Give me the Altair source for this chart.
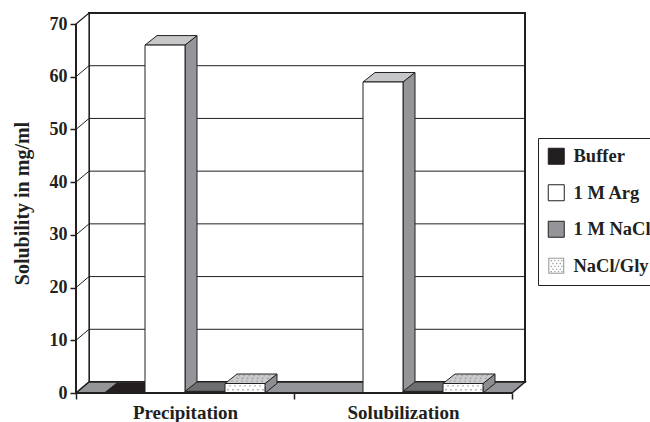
import altair as alt
import numpy as np
import pandas as pd

# ---- data ----
categories = ["Precipitation", "Solubilization"]
series = ["Buffer", "1 M Arg", "1 M NaCl", "NaCl/Gly"]
buffer_vals = [0.1, 0.0]
arg_vals = [66.0, 59.0]
nacl_vals = [0.3, 0.3]
nacl_gly_vals = [1.8, 1.8]
y_ticks = [0, 10, 20, 30, 40, 50, 60, 70]

values = {
    "Buffer": buffer_vals,
    "1 M Arg": arg_vals,
    "1 M NaCl": nacl_vals,
    "NaCl/Gly": nacl_gly_vals,
}

# ---- styling: (front, top, side) face colours per series ----
face_colors = {
    "Buffer": ("#231f20", "#231f20", "#231f20"),
    "1 M Arg": ("#ffffff", "#c6c7c9", "#939598"),
    "1 M NaCl": ("#939598", "#6d6e71", "#6d6e71"),
    "NaCl/Gly": ("#ffffff", "#cacbcd", "#8d8e91"),
}
INK = "#231f20"
FLOOR = "#939598"
STIPPLE = "#9a9a9a"
FONT = "Liberation Serif"

# legend swatches: plain squares, and a stippled square with a light frame
SQUARE = "M-1,-1H1V1H-1Z"
_dots = "".join(
    f"M{x:.2f},{y:.2f}h0.16v0.16h-0.16Z"
    for r, y in enumerate([-0.72, -0.36, 0.0, 0.36, 0.66])
    for x in ([-0.7, -0.25, 0.2, 0.62] if r % 2 == 0 else [-0.48, -0.03, 0.42])
)
STIPPLED = "M-1,-1H1V1H-1Z M-0.86,-0.86V0.86H0.86V-0.86Z " + _dots
legend_shapes = [SQUARE, SQUARE, SQUARE, STIPPLED]
legend_fills = [INK, "#ffffff", "#939598", STIPPLE]
legend_strokes = [INK, INK, INK, "transparent"]

# ---- 3-D box geometry: x in pixels from the front-left corner, y in mg/ml ----
PX_PER_UNIT = 369 / 70
CAT_W = 218
BAR_W = 40
BAR_PAD = 29
WALL_DX = 13
WALL_DY = 11 / PX_PER_UNIT
BAR_DX = 12
BAR_DY = 9.5 / PX_PER_UNIT
FRONT_W = len(categories) * CAT_W
PLOT_W = FRONT_W + WALL_DX
PLOT_H = 380
Y_MAX = PLOT_H / PX_PER_UNIT
TOP = y_ticks[-1]

x_scale = alt.Scale(domain=[0, PLOT_W], nice=False, zero=False)
y_scale = alt.Scale(domain=[0, Y_MAX], nice=False, zero=False)

label_expr = " : ".join(
    [f"datum.value == {i * CAT_W} ? '{c}'" for i, c in enumerate(categories)] + ["''"]
)
x_axis = alt.Axis(
    values=[i * CAT_W for i in range(len(categories) + 1)],
    labelExpr=label_expr,
    labelOffset=CAT_W / 2,
    labelFlush=False,
    labelOverlap=False,
    labelBound=False,
    domain=False,
    grid=False,
    ticks=True,
    tickSize=6,
    tickWidth=1.5,
    tickColor=INK,
    labelFont=FONT,
    labelFontWeight="bold",
    labelFontSize=19,
    labelColor=INK,
    labelBaseline="alphabetic",
    labelPadding=19,
    title=None,
)
y_axis = alt.Axis(
    values=y_ticks,
    domain=False,
    grid=False,
    tickSize=6,
    tickWidth=1.5,
    tickColor=INK,
    labelFont=FONT,
    labelFontWeight="bold",
    labelFontSize=18,
    labelColor=INK,
    labelPadding=3,
    title="Solubility in mg/ml",
    titleFont=FONT,
    titleFontWeight="bold",
    titleFontSize=20,
    titleColor=INK,
    titleX=-54,
    titleY=PLOT_H / 2,
    titleAlign="center",
    titleBaseline="middle",
    titleAngle=270,
)


def X(field):
    return alt.X(field, type="quantitative", scale=x_scale, axis=x_axis)


def Y(field):
    return alt.Y(field, type="quantitative", scale=y_scale, axis=y_axis)


# ---- walls and floor ----
back_wall = pd.DataFrame({"x": [WALL_DX], "x2": [PLOT_W], "y": [WALL_DY], "y2": [Y_MAX]})
left_wall = pd.DataFrame({"x": [0, WALL_DX], "y": [TOP, Y_MAX], "y2": [0, WALL_DY]})
floor = pd.DataFrame({
    "x": [0, WALL_DX, FRONT_W, PLOT_W],
    "y": [0, WALL_DY, WALL_DY, WALL_DY],
    "y2": [0, 0, 0, WALL_DY],
})
grid_levels = y_ticks[1:-1]
back_grid = pd.DataFrame({
    "x": WALL_DX, "x2": PLOT_W,
    "y": [v + WALL_DY for v in grid_levels],
    "y2": [v + WALL_DY for v in grid_levels],
})
side_grid = pd.DataFrame({
    "x": 0, "x2": WALL_DX,
    "y": grid_levels,
    "y2": [v + WALL_DY for v in grid_levels],
})

# ---- bars: front rectangles, side and top parallelograms ----
fronts, faces, dots = [], [], []
for ci, cat in enumerate(categories):
    for si, s in enumerate(series):
        v = values[s][ci]
        if v <= 0:
            continue
        x0 = ci * CAT_W + BAR_PAD + si * BAR_W
        x1 = x0 + BAR_W
        front_c, top_c, side_c = face_colors[s]
        bid = f"{ci}-{si}"
        fronts.append({"series": s, "x": x0, "x2": x1, "y": 0, "y2": v, "fill": front_c})
        for x, y, y2 in [(x1, v, 0), (x1 + BAR_DX, v + BAR_DY, BAR_DY)]:
            faces.append({"face": bid + "s", "kind": "side", "x": x, "y": y, "y2": y2, "fill": side_c})
        for x, y, y2 in [(x0, v, v), (x0 + BAR_DX, v + BAR_DY, v),
                         (x1, v + BAR_DY, v), (x1 + BAR_DX, v + BAR_DY, v + BAR_DY)]:
            faces.append({"face": bid + "t", "kind": "top", "x": x, "y": y, "y2": y2, "fill": top_c})
        if s == "NaCl/Gly":
            # stipple texture on the front and top faces
            for r, fy in enumerate([0.35, 0.75]):
                for k in range(8):
                    dots.append({"x": x0 + 3 + 5 * k + 2 * (r % 2), "y": v * fy})
            for r, t in enumerate([0.25, 0.55, 0.85]):
                for k in range(7):
                    dots.append({"x": x0 + 4 + 5 * k + 2 * (r % 2) + t * BAR_DX, "y": v + t * BAR_DY})

fronts = pd.DataFrame(fronts)
faces = pd.DataFrame(faces)
dots = pd.DataFrame(dots)

front_edges = pd.DataFrame({"x": [0, 0], "x2": [0, FRONT_W], "y": [0, 0], "y2": [TOP, 0]})

series_legend = alt.Legend(
    orient="none", legendX=462, legendY=125, title=None,
    symbolSize=256, symbolStrokeWidth=1,
    labelFont=FONT, labelFontWeight="bold", labelFontSize=18.5,
    labelColor=INK, labelOffset=8, rowPadding=15.5,
    padding=9, strokeColor=INK, fillColor="white",
)

layers = [
    alt.Chart(back_wall).mark_rect(fill="white", stroke=INK, strokeWidth=2).encode(
        x=X("x"), x2="x2", y=Y("y"), y2="y2"),
    alt.Chart(back_grid).mark_rule(color=INK, strokeWidth=1).encode(
        x=X("x"), x2="x2", y=Y("y"), y2="y2"),
    alt.Chart(left_wall).mark_area(fill="white", stroke=INK, strokeWidth=1.2).encode(
        x=X("x"), y=Y("y"), y2="y2"),
    alt.Chart(side_grid).mark_rule(color=INK, strokeWidth=1).encode(
        x=X("x"), x2="x2", y=Y("y"), y2="y2"),
    alt.Chart(floor).mark_area(fill=FLOOR, stroke=INK, strokeWidth=1.5).encode(
        x=X("x"), y=Y("y"), y2="y2"),
    alt.Chart(faces).transform_filter("datum.kind == 'side'").mark_area(
        stroke=INK, strokeWidth=1, strokeJoin="miter").encode(
        x=X("x"), y=Y("y"), y2="y2", detail="face:N",
        color=alt.Color("fill:N", scale=None)),
    alt.Chart(faces).transform_filter("datum.kind == 'top'").mark_area(
        stroke=INK, strokeWidth=1, strokeJoin="miter").encode(
        x=X("x"), y=Y("y"), y2="y2", detail="face:N",
        color=alt.Color("fill:N", scale=None)),
    alt.Chart(fronts).mark_rect(stroke=INK, strokeWidth=1).encode(
        x=X("x"), x2="x2", y=Y("y"), y2="y2",
        fill=alt.Fill("fill:N", scale=None)),
    alt.Chart(dots).mark_square(size=2, color=STIPPLE, opacity=1).encode(
        x=X("x"), y=Y("y")),
    alt.Chart(front_edges).mark_rule(color=INK, strokeWidth=2).encode(
        x=X("x"), x2="x2", y=Y("y"), y2="y2"),
    # series key (symbols only appear in the legend)
    alt.Chart(fronts).transform_filter("false").mark_point(filled=True, opacity=1).encode(
        x=X("x"), y=Y("y2"),
        fill=alt.Fill("series:N", scale=alt.Scale(domain=series, range=legend_fills),
                      legend=series_legend),
        stroke=alt.Stroke("series:N", scale=alt.Scale(domain=series, range=legend_strokes),
                          legend=series_legend),
        shape=alt.Shape("series:N", scale=alt.Scale(domain=series, range=legend_shapes),
                        legend=series_legend),
    ),
]

chart = alt.layer(*layers).properties(
    width=PLOT_W,
    height=PLOT_H,
    padding={"left": 76, "top": 13, "right": 650 - 76 - PLOT_W, "bottom": 422 - 13 - PLOT_H},
    autosize=alt.AutoSizeParams(type="none"),
    background="white",
).configure_view(stroke=None)

chart.save("out.html", embed_options={"renderer": "svg", "actions": False})
